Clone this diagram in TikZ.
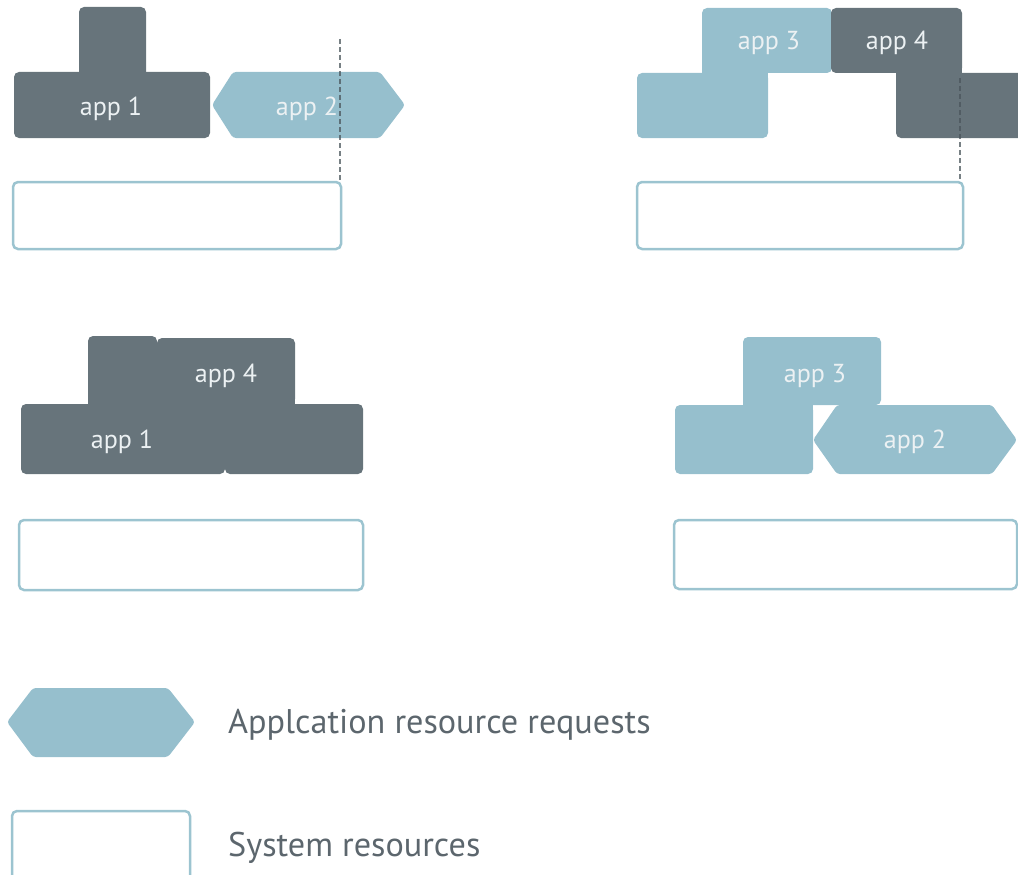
\documentclass[tikz,border=0pt]{standalone}
\usepackage{fontspec}
\setmainfont{PT Sans}
\definecolor{appdark}{HTML}{67747B}
\definecolor{applight}{HTML}{96BFCD}
\definecolor{sysline}{HTML}{9CC4D0}
\definecolor{lblwhite}{HTML}{ECF1F3}
\definecolor{legendtext}{HTML}{5C666D}
\definecolor{guidegray}{HTML}{4A555B}
\newcommand{\applblfont}{\fontsize{26}{31}\selectfont}
\newcommand{\legendfont}{\fontsize{34.2}{41}\selectfont}
\begin{document}
\begin{tikzpicture}[x=1pt,y=-1pt,
  darkpart/.style={fill=appdark, rounded corners=5pt},
  lightpart/.style={fill=applight, rounded corners=5pt},
  darkjoin/.style={fill=appdark},
  lightjoin/.style={fill=applight},
  hexreq/.style={fill=applight, rounded corners=3pt},
  sysbox/.style={draw=sysline, line width=2.5pt, rounded corners=5pt},
  applbl/.style={text=lblwhite, font=\applblfont, anchor=base, inner sep=0pt},
  legendlbl/.style={text=legendtext, font=\legendfont, anchor=base west, inner sep=0pt},
  guide/.style={draw=guidegray, draw opacity=0.75, line width=2.2pt, dash pattern=on 5pt off 3pt}]
\useasboundingbox (0,0) rectangle (1018,875);
\clip (0,0) rectangle (1018,875);

% ---- top left: app 1 and app 2 over a system box ----
\fill[darkpart] (79,7) rectangle (146,90);
\fill[darkpart] (14,72) rectangle (210,138);
\fill[hexreq] (212,105) -- (233,72) -- (380,72) -- (405,105) -- (380,138) -- (233,138) -- cycle;
\node[applbl] (tlA) at (111,115) {app 1};
\node[applbl] (tlB) at (307,115) {app 2};
\draw[sysbox] (13,182) rectangle (341,249);
\coordinate (tlGtop) at (340,39);
\coordinate (tlGbot) at (340,182);
\draw[guide] (tlGtop) -- (tlGbot);

% ---- top right: app 3 and app 4 over a system box ----
\fill[lightpart] (702,8) rectangle (832,73);
\fill[lightpart] (637,73) rectangle (768,138);
\fill[lightjoin] (702,63) rectangle (768,83);
\fill[darkpart] (831,8) rectangle (962,73);
\fill[darkpart] (896,73) rectangle (1040,138);
\fill[darkjoin] (896,63) rectangle (962,83);
\node[applbl] (trC) at (769,50) {app 3};
\node[applbl] (trD) at (897,50) {app 4};
\draw[sysbox] (637,182) rectangle (963,249);
\coordinate (trGtop) at (960,78);
\coordinate (trGbot) at (960,182);
\draw[guide] (trGtop) -- (trGbot);

% ---- bottom left: app 1 and app 4 packed together ----
\fill[darkpart] (88,336) rectangle (157,404);
\fill[darkpart] (21,404) rectangle (225,474);
\fill[darkpart] (157,338) rectangle (295,404);
\fill[darkpart] (225,404) rectangle (363,474);
\fill[darkjoin] (88,394) rectangle (295,414);
\fill[darkjoin] (150,345) rectangle (164,404);
\fill[darkjoin] (218,404) rectangle (232,465);
\node[applbl] (blD) at (226,382) {app 4};
\node[applbl] (blA) at (122,448) {app 1};
\draw[sysbox] (19,520) rectangle (363,590);

% ---- bottom right: app 3 and app 2 packed together ----
\fill[lightpart] (743,337) rectangle (881,405);
\fill[lightpart] (675,405) rectangle (813,474);
\fill[lightjoin] (743,395) rectangle (813,415);
\fill[hexreq] (813,440) -- (837,405) -- (992,405) -- (1017,440) -- (992,474) -- (837,474) -- cycle;
\node[applbl] (brC) at (815,382) {app 3};
\node[applbl] (brB) at (915,448) {app 2};
\draw[sysbox] (674,520) rectangle (1017,589);

% ---- legend ----
\fill[hexreq] (7,722) -- (33,688) -- (168,688) -- (195,722) -- (168,757) -- (33,757) -- cycle;
\node[legendlbl] (lgReq) at (228,733) {Applcation resource requests};
\draw[sysbox] (12,811) rectangle (190,885);
\node[legendlbl] (lgSys) at (228,856) {System resources};
\end{tikzpicture}
\end{document}
